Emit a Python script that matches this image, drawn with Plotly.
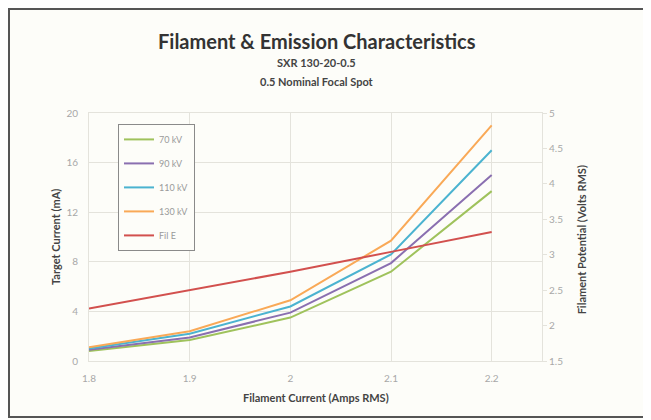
import plotly.graph_objects as go

# filament current (Amps RMS)
fil_current = [1.8, 1.9, 2.0, 2.1, 2.2]

# target current (mA) per tube voltage
kv70 = [0.8, 1.7, 3.5, 7.2, 13.7]
kv90 = [0.9, 1.9, 3.9, 7.9, 15.0]
kv110 = [1.0, 2.2, 4.4, 8.6, 17.0]
kv130 = [1.1, 2.4, 4.9, 9.7, 19.0]

# filament potential (Volts RMS)
fil_e = [2.24, 2.5, 2.76, 3.04, 3.32]

series = [
    ("70 kV", kv70, "#9fc25c"),
    ("90 kV", kv90, "#8a6fb0"),
    ("110 kV", kv110, "#4bb3d0"),
    ("130 kV", kv130, "#f9a957"),
]

fig = go.Figure()
for i, (name, vals, col) in enumerate(series):
    fig.add_trace(go.Scatter(x=fil_current, y=vals, mode="lines", name=name,
                             legendgroup=str(i),
                             line=dict(color=col, width=2)))
fig.add_trace(go.Scatter(x=fil_current, y=fil_e, mode="lines", name="Fil E",
                         legendgroup="5", yaxis="y2",
                         line=dict(color="#d2504e", width=2)))

grid = "#e4e3dc"
tickfont = dict(family="Lato", size=10, color="#a8a8a8")
titlefont = dict(family="Lato", size=11, color="#444444")

# page has an 8px body margin, so the figure is 8px smaller than the window
fig.update_layout(
    width=643, height=412,
    margin=dict(l=81, r=109, t=105, b=59),
    paper_bgcolor="#fdfdf9", plot_bgcolor="#fdfdf9",
    showlegend=True,
    legend=dict(x=0.064, y=0.956, xanchor="left", yanchor="top",
                bordercolor="#8a8a8a", borderwidth=1, bgcolor="#fdfdf9",
                font=dict(family="Lato", size=9, color="#9a9a9a"),
                tracegroupgap=5, itemwidth=30),
    xaxis=dict(range=[1.8, 2.25], tickvals=[1.8, 1.9, 2.0, 2.1, 2.2],
               ticktext=["1.8", "1.9", "2", "2.1", "2.2"],
               showgrid=True, gridcolor=grid, zeroline=False,
               showline=True, linecolor=grid, mirror=True,
               tickfont=tickfont, ticks="", ticklabelstandoff=8),
    yaxis=dict(range=[0, 20], dtick=4, showgrid=True, gridcolor=grid,
               zeroline=False, showline=True, linecolor=grid,
               tickfont=tickfont, ticks="", ticklabelstandoff=8),
    yaxis2=dict(range=[1.5, 5], dtick=0.5, overlaying="y", side="right",
                showgrid=False, zeroline=False, showline=True, linecolor=grid,
                tickfont=tickfont, ticks="outside", ticklen=4, tickcolor=grid),
)


def note(text, x, y, font, angle=0):
    fig.add_annotation(text=text, xref="paper", yref="paper", x=x, y=y,
                       xanchor="center", yanchor="middle", textangle=angle,
                       showarrow=False, font=font)


# chart titles
note("<b>Filament & Emission Characteristics</b>", 0.503, 1.29,
     dict(family="Lato", size=20, color="#333333"))
note("<b>SXR 130-20-0.5</b>", 0.503, 1.202,
     dict(family="Lato", size=11, color="#444444"))
note("<b>0.5 Nominal Focal Spot</b>", 0.503, 1.129,
     dict(family="Lato", size=11, color="#444444"))

# axis titles
note("<b>Filament Current (Amps RMS)</b>", 0.5, -0.149, titlefont)
note("<b>Target Current (mA)</b>", -0.075, 0.5, titlefont, -90)
note("<b>Filament Potential (Volts RMS)</b>", 1.088, 0.49, titlefont, -90)

# outer chart border
fig.add_shape(type="rect", xref="paper", yref="paper",
              x0=-0.1766, x1=1.3,
              y0=-0.2258, y1=1.419,
              line=dict(color="#555555", width=2))

fig.write_html("out.html")
